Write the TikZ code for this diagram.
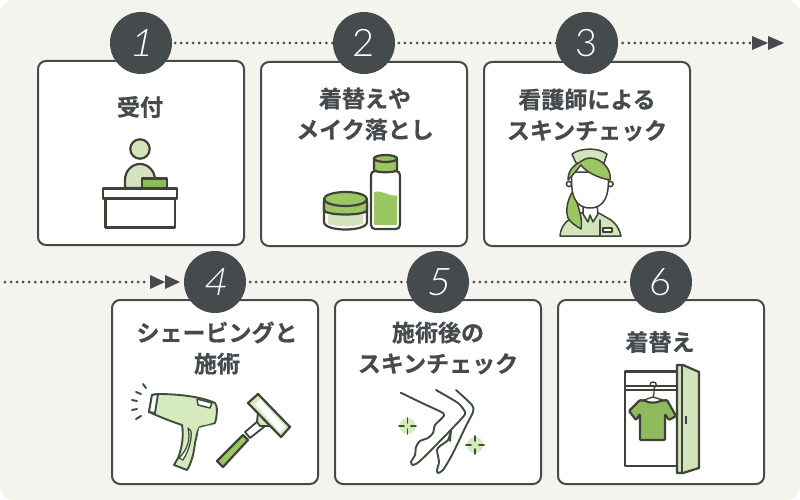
\documentclass[tikz,border=0pt]{standalone}
\usepackage{fontspec}
\newfontfamily\cjk[FakeBold=0.7]{Noto Sans CJK JP Bold}
\newfontfamily\numf{Lato Light}
\definecolor{bgc}{HTML}{F4F3EE}
\definecolor{ink}{HTML}{454A4D}
\definecolor{line}{HTML}{3F4238}
\definecolor{dk}{HTML}{3D4F3C}
\definecolor{mid}{HTML}{9BC763}
\definecolor{gn}{HTML}{8FBB5F}
\definecolor{lt}{HTML}{D3E4BD}
\definecolor{ltt}{HTML}{D5EBBE}
\tikzset{
 x=1pt,y=-1pt,
 card/.style={draw=ink,fill=white,line width=2pt,rounded corners=8pt,minimum width=206pt,minimum height=184pt,inner sep=0pt},
 badge/.style={circle,fill=ink,minimum size=62pt,inner sep=0pt,text=white,font=\fontsize{38}{38}\selectfont\numf},
 title/.style={align=center,text=ink,font=\fontsize{23}{31}\selectfont\cjk,inner sep=0pt},
 flow/.style={draw=ink,line width=3pt,line cap=round,dash pattern=on 0pt off 6.05pt},
 tip/.style={fill=ink,draw=none},
 ic/.style={draw=line,line width=2.2pt,line join=round},
 ict/.style={draw=dk,line width=1.9pt,line join=round,line cap=round},
 nur/.style={draw=line,line width=1.5pt,line join=round,line cap=round},
}
\begin{document}
\begin{tikzpicture}
\useasboundingbox (0,0) rectangle (800,500);
\fill[white] (0,0) rectangle (800,500);
\fill[bgc,rounded corners=14pt] (0,0) rectangle (800,500);

\coordinate (s1) at (175,43);
\coordinate (e1) at (750,43);
\coordinate (s2) at (5,282);
\coordinate (e2) at (148,282);
\coordinate (s3) at (250,282);
\coordinate (e3) at (632,282);

% cards
\node[card] (c1) at (141,153) {};
\node[card] (c2) at (364,154) {};
\node[card] (c3) at (587,154) {};
\node[card] (c4) at (215,392) {};
\node[card] (c5) at (438,392) {};
\node[card] (c6) at (661,392) {};

% flows
\draw[flow] (s1) -- (e1);
\draw[flow] (s2) -- (e2);
\draw[flow] (s3) -- (e3);
\fill[tip] (752,36) -- (768,43) -- (752,50) -- cycle;
\fill[tip] (768,36) -- (784,43) -- (768,50) -- cycle;
\fill[tip] (150,275) -- (165,282) -- (150,289) -- cycle;
\fill[tip] (165,275) -- (180,282) -- (165,289) -- cycle;

% badges
\node[badge] (b1) at (141,43) {\addfontfeature{FakeSlant=0.2}1};
\node[badge] (b2) at (364,43) {2};
\node[badge] (b3) at (587,43) {3};
\node[badge] (b4) at (215,282) {\addfontfeature{FakeSlant=0.2}4};
\node[badge] (b5) at (438,282) {\addfontfeature{FakeSlant=0.2}5};
\node[badge] (b6) at (661,282) {6};

% titles
\node[title] (t1) at (140,107) {受付};
\node[title] (t2) at (365,114) {着替えや\\メイク落とし};
\node[title] (t3) at (587,115) {看護師による\\スキンチェック};
\node[title] (t4) at (217,348) {シェービングと\\施術};
\node[title] (t5) at (438,348) {施術後の\\スキンチェック};
\node[title] (t6) at (660,342) {着替え};

% icon 1: reception
\draw[ic,fill=lt] (140,149) circle (9.7);
\draw[ic,fill=lt] (125,188) -- (125,180) arc (180:360:15 and 16) -- (155,188) -- cycle;
\draw[ic,fill=white,line width=1.6pt] (108.5,188) arc (180:0:6.5 and 6) -- cycle;
\draw[ic,fill=gn] (142,178.5) rectangle (167,188);
\draw[ic,fill=white] (103,188.5) rectangle (177,198.5);
\draw[ic,fill=white] (105.5,198.5) rectangle (175,227.5);

% icon 2: jar and bottle
\draw[ic,fill=white] (324,201) -- (324,222) .. controls (324,232) and (367,232) .. (367,222) -- (367,201) -- cycle;
\fill[lt] (328,215) -- (363,215) -- (363,224) .. controls (355,227) and (336,227) .. (328,224) -- cycle;
\draw[ic,fill=mid] (324,201) -- (324,210) .. controls (324,216) and (367,216) .. (367,210) -- (367,201) -- cycle;
\draw[ic,fill=mid] (345.5,199) ellipse (21.5 and 7);
\draw[ic,fill=white,rounded corners=4pt] (371,171) rectangle (400,229);
\fill[mid,rounded corners=1pt] (374,192) .. controls (382,190) and (390,197) .. (397,195) -- (397,225) -- (374,225) -- cycle;
\draw[ic,fill=mid] (374,158) -- (374,170) .. controls (376,173) and (395,173) .. (397,170) -- (397,158) -- cycle;
\draw[ic,fill=gn!70!mid] (385.5,158.5) ellipse (11.5 and 3.5);

% icon 3: nurse
\draw[nur,fill=lt] (560,236) .. controls (561,228) and (563,224) .. (570,219) -- (583,212) -- (597,212) -- (611,220) .. controls (616,224) and (619,228) .. (621,236) -- cycle;
\draw[nur,fill=white] (583,206) -- (583,214) -- (588,222) -- (590,215) -- (593,222) -- (598,214) -- (597,206) -- cycle;
\draw[nur,fill=lt] (572,154) .. controls (580,148) and (598,147) .. (607,154) -- (604,163) -- (576,163) -- cycle;
\draw[nur,fill=white] (569,184) circle (2.6) (610.5,184) circle (2.6);
\draw[nur,fill=mid] (573,191) .. controls (566,202) and (566,212) .. (568,218) .. controls (571,223) and (576,226) .. (581,229) .. controls (583,218) and (578,208) .. (576,198) -- cycle;
\draw[nur,fill=white] (572,172) .. controls (570,195) and (575,208) .. (590,208) .. controls (605,208) and (610,195) .. (608,172) -- cycle;
\draw[nur,fill=mid] (580,162) .. controls (574,165) and (568,170) .. (568,180) .. controls (572,176) and (577,170) .. (581,165) .. controls (586,172) and (598,178) .. (610,180) .. controls (612,170) and (602,158) .. (590,158) .. controls (586,158) and (583,160) .. (580,162) -- cycle;
\draw[nur] (600,220) -- (600,236);
\draw[nur,fill=white,line width=1.2pt] (603,228) rectangle (612,232);

% icon 4: epilator
\draw[ict] (143,384) -- (146,388) (136,392) -- (141,394) (132,400) -- (137,401) (132,410) -- (137,409) (136,419) -- (141,416);
\draw[ict,fill=ltt] (158,394) .. controls (175,394) and (200,396) .. (215,403) .. controls (218,406) and (217,416) .. (215,423) .. controls (208,426) and (203,426) .. (200,427) .. controls (197,430) and (197,436) .. (195,443) .. controls (194,452) and (192,462) .. (187,470) -- (174,465) -- (178,458) .. controls (182,448) and (184,435) .. (182,425) .. controls (170,421) and (160,417) .. (149,412) -- (152,395) -- cycle;
\draw[ict,fill=white] (152,395) -- (158,394) -- (155,413) -- (149,412) -- cycle;
\draw[ict,fill=white,line width=1.5pt] (197,399) -- (212,403) -- (210,408) -- (198,405) -- cycle;
\draw[ict,fill=white,line width=1.3pt] (188,428) .. controls (191,440) and (187,450) .. (179,458) -- (183,460) .. controls (189,450) and (192,440) .. (191,431) -- cycle;
\fill[white] (199,428) -- (214,424) -- (204,428) .. controls (201,429) and (199,432) .. (198,434) -- cycle;
% razor
\draw[ic,fill=mid] (243,435) -- (217,461) -- (223,467) -- (248,440) -- cycle;
\draw[ic,fill=white,line width=1.8pt] (245,432) -- (258,421) -- (264,427) -- (250,438) -- cycle;
\draw[ic,fill=lt,line width=1.8pt] (258,412) -- (271,426) -- (260,426) -- (257,422) -- cycle;
\draw[ic,fill=ltt] (248,403) -- (258,394) -- (290,427) -- (281,437) -- cycle;
\fill[white] (255,404) -- (260,399) -- (285,427) -- (280,432) -- cycle;

% icon 5: legs
\fill[ltt] (407.5,426) circle (8);
\fill[ltt] (475,445) circle (8);
\draw[ict] (407.5,418) -- (407.5,423) (407.5,429) -- (407.5,434) (399,426) -- (404,426) (411,426) -- (416,426);
\draw[ict] (475,436) -- (475,441) (475,449) -- (475,454) (466,445) -- (471,445) (479,445) -- (484,445);
\draw[ict] plot[smooth,tension=.4] coordinates {(400.7,392.7) (422,403) (443,413) (443,417) (435,425) (433,433) (428,438) (420,441) (416,447) (415,455) (411,462) (413,465) (420,461) (443,438) (463,417) (465,412) (458,403) (436,390)};
\draw[ict] plot[smooth,tension=.4] coordinates {(456,390) (472,405) (473,412) (465,428) (452,455) (443,470) (438,473) (437,470) (439,462) (437,450) (440,446) (448,440) (451,430)};
\draw[ict] (451,430) -- (450,441);

% icon 6: closet
\draw[ic,fill=white] (625,371.5) rectangle (677,466);
\draw[ic,line width=1.8pt] (625,386) -- (677,386) (625,390) -- (677,390);
\draw[ic,line width=1.4pt] (650,386) .. controls (650,383) and (651,382) .. (653,382) .. controls (657,382) and (657,386) .. (654,388) -- (654,394) -- (653,397);
\draw[ic,fill=gn,rounded corners=1pt] (640,400) -- (646,401) .. controls (649,403) and (656,403) .. (660,401) -- (667,400) -- (676,416) -- (669,420) -- (665,414) -- (665,440) -- (640,440) -- (640,414) -- (636,420) -- (629,411) -- cycle;
\draw[ic,line width=1.4pt] (641,401) -- (653,397) -- (666,401);
\draw[ic,fill=lt] (677,365) -- (683,365) -- (699,372) -- (699,468) -- (683,473) -- (677,473) -- cycle;
\draw[ic] (682,365) -- (682,473);
\draw[ic,fill=line,line width=1pt] (685,416) rectangle (686.5,423);
\end{tikzpicture}
\end{document}
